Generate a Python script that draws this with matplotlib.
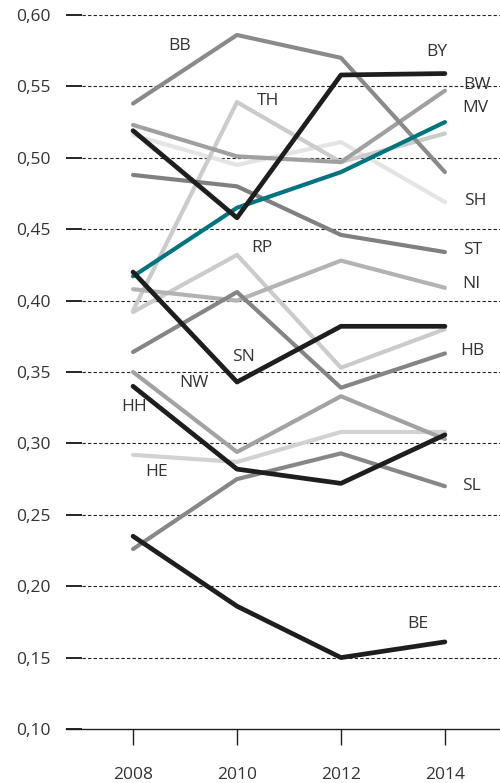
import matplotlib.pyplot as plt

plt.rcParams["font.family"] = ["Open Sans", "DejaVu Sans"]

years = [2008, 2010, 2012, 2014]

# values, one list per state
BB = [0.538, 0.586, 0.570, 0.490]
BY = [0.519, 0.458, 0.558, 0.559]
BW = [0.523, 0.501, 0.497, 0.547]
MV = [0.417, 0.465, 0.490, 0.525]
TH = [0.393, 0.539, 0.497, 0.517]
SH = [0.516, 0.495, 0.511, 0.469]
ST = [0.488, 0.480, 0.446, 0.434]
RP = [0.392, 0.432, 0.353, 0.380]
NI = [0.408, 0.400, 0.428, 0.409]
SN = [0.420, 0.343, 0.382, 0.382]
HB = [0.364, 0.406, 0.339, 0.363]
NW = [0.350, 0.294, 0.333, 0.303]
HE = [0.292, 0.287, 0.308, 0.308]
HH = [0.340, 0.282, 0.272, 0.306]
SL = [0.226, 0.275, 0.293, 0.270]
BE = [0.235, 0.186, 0.150, 0.161]

yticks = [0.10, 0.15, 0.20, 0.25, 0.30, 0.35, 0.40, 0.45, 0.50, 0.55, 0.60]
tick_colors = ["#1e1e20", "#8a8a8a", "#1e1e20", "#8a8a8a", "#8a8a8a", "#1e1e20",
               "#8a8a8a", "#8a8a8a", "#1e1e20", "#8a8a8a", "#8a8a8a"]

# (name, values, colour), drawn back to front
series = [
    ("SH", SH, "#e4e4e5"),
    ("HE", HE, "#d2d2d3"),
    ("RP", RP, "#cbcbcc"),
    ("TH", TH, "#cbcbcc"),
    ("NI", NI, "#b3b3b4"),
    ("NW", NW, "#a2a2a3"),
    ("BW", BW, "#a0a0a1"),
    ("SL", SL, "#878788"),
    ("HB", HB, "#858586"),
    ("ST", ST, "#808081"),
    ("BB", BB, "#8a8a8b"),
    ("MV", MV, "#00747f"),
    ("HH", HH, "#1e1e20"),
    ("SN", SN, "#1e1e20"),
    ("BE", BE, "#1e1e20"),
    ("BY", BY, "#1e1e20"),
]

# label positions (x in years, y in value)
labels = {
    "BB": (2008.9, 0.578), "BY": (2013.85, 0.574), "BW": (2014.62, 0.551),
    "MV": (2014.58, 0.535), "TH": (2010.6, 0.540), "SH": (2014.58, 0.470),
    "ST": (2014.54, 0.4355), "RP": (2010.48, 0.437), "NI": (2014.5, 0.4115),
    "SN": (2010.13, 0.3606), "HB": (2014.52, 0.365), "NW": (2009.17, 0.342),
    "HH": (2008.02, 0.3256), "HE": (2008.46, 0.280), "SL": (2014.52, 0.270),
    "BE": (2013.48, 0.1735),
}

fig = plt.figure(figsize=(5, 7.83), dpi=100)
ax = fig.add_axes([0.132, 54 / 783, 0.868, 714 / 783])

for name, vals, col in series:
    lw = 3.4 if col == "#1e1e20" else 3.0
    ax.plot(years, vals, color=col, linewidth=lw, solid_capstyle="round", clip_on=False)

for name, (lx, ly) in labels.items():
    ax.text(lx, ly, name, fontsize=12.5, color="#333333", ha="center", va="center")

ax.set_xlim(2006.71, 2015.06)
ax.set_ylim(0.10, 0.60)

# dashed grid starting where the short tick marks end
for v in yticks[1:]:
    ax.axhline(v, xmin=16 / 434, xmax=1, color="#222222", linewidth=0.8,
               linestyle=(0, (3, 2)), zorder=0)

for s in ["left", "top", "right"]:
    ax.spines[s].set_visible(False)
ax.spines["bottom"].set_color("#1e1e20")
ax.spines["bottom"].set_linewidth(1.0)

ax.set_yticks(yticks)
ax.set_yticklabels(["{:.2f}".format(v).replace(".", ",") for v in yticks])
ax.tick_params(axis="y", direction="in", length=11.5, width=1.2, pad=11,
               labelsize=12.5, labelcolor="#333333")
for tick, col in zip(ax.yaxis.get_major_ticks(), tick_colors):
    tick.tick1line.set_color(col)

ax.set_xticks(years)
ax.set_xticklabels([str(y) for y in years])
ax.tick_params(axis="x", direction="out", length=11.5, width=1.0, pad=16,
               labelsize=12.5, labelcolor="#333333", color="#1e1e20")

fig.savefig("out.png", dpi=100)
